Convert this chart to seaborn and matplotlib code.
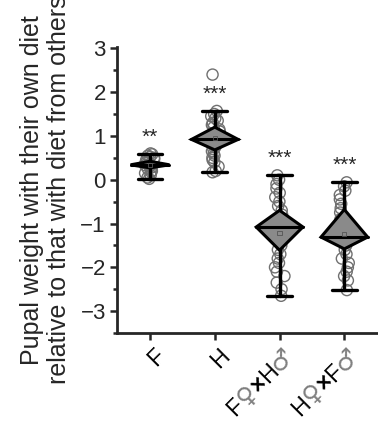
import numpy as np
import pandas as pd
import matplotlib
matplotlib.use('Agg')
import matplotlib.pyplot as plt
import matplotlib.transforms as mtransforms
import seaborn as sns
from matplotlib.ticker import MultipleLocator

# categories
groups = ['F', 'H', 'F♀×H♂', 'H♀×F♂']

# individual points
f_vals = [0.60, 0.58, 0.55, 0.52, 0.50, 0.47, 0.45, 0.42, 0.38, 0.35,
          0.33, 0.30, 0.28, 0.25, 0.20, 0.18, 0.15, 0.10, 0.05, 0.02]
h_vals = [2.40, 1.57, 1.50, 1.45, 1.40, 1.35, 1.30, 1.25, 1.20, 1.15,
          1.10, 1.05, 1.00, 0.95, 0.90, 0.85, 0.80, 0.75, 0.70, 0.65,
          0.60, 0.55, 0.50, 0.45, 0.40, 0.30, 0.20, 0.17]
fh_vals = [0.10, 0.00, -0.10, -0.20, -0.30, -0.40, -0.50, -0.60, -0.70, -0.80,
           -0.95, -1.10, -1.30, -1.50, -1.60, -1.70, -1.80, -1.90, -2.00, -2.10,
           -2.20, -2.35, -2.50, -2.65]
hf_vals = [-0.06, -0.15, -0.25, -0.35, -0.45, -0.55, -0.65, -0.75, -0.90, -1.05,
           -1.20, -1.35, -1.50, -1.60, -1.70, -1.80, -1.90, -2.00, -2.10, -2.20,
           -2.30, -2.52]

# summary values: whisker caps and diamond (top / middle line / bottom)
cap_hi = [0.59, 1.57, 0.11, -0.06]
cap_lo = [0.02, 0.17, -2.65, -2.52]
dia_hi = [0.42, 1.20, -0.70, -0.68]
dia_mid = [0.34, 0.92, -1.08, -1.31]
dia_lo = [0.27, 0.68, -1.61, -1.58]
stars = ['**', '***', '***', '***']

sns.set_style('ticks')
plt.rcParams['font.family'] = ['Liberation Sans', 'DejaVu Sans']

df = pd.DataFrame({
    'group': [groups[0]] * len(f_vals) + [groups[1]] * len(h_vals)
             + [groups[2]] * len(fh_vals) + [groups[3]] * len(hf_vals),
    'value': f_vals + h_vals + fh_vals + hf_vals,
})
means = df.groupby('group')['value'].mean().reindex(groups).values

fig = plt.figure(figsize=(3.78, 4.22), dpi=100)
ax = fig.add_axes([117 / 378, 1 - 333 / 422, 1 - 117 / 378, (333 - 47) / 422])

np.random.seed(3)
sns.stripplot(data=df, x='group', y='value', order=groups, jitter=0.08, size=8,
              color='#707070', facecolor='none', edgecolor='#707070',
              linewidth=1.0, ax=ax, zorder=2)

half_w = [0.30, 0.36, 0.36, 0.36]
cap_w = 0.19
for i in range(len(groups)):
    hw = half_w[i]
    ax.plot([i, i], [cap_lo[i], cap_hi[i]], color='k', lw=2.4, zorder=3)
    ax.plot([i - cap_w, i + cap_w], [cap_hi[i]] * 2, color='k', lw=2.4, zorder=3)
    ax.plot([i - cap_w, i + cap_w], [cap_lo[i]] * 2, color='k', lw=2.4, zorder=3)
    ax.fill([i - hw, i, i + hw, i], [dia_mid[i], dia_hi[i], dia_mid[i], dia_lo[i]],
            facecolor='#8a8a8a', edgecolor='k', lw=2.2, zorder=4)
    ax.plot([i - hw, i + hw], [dia_mid[i]] * 2, color='k', lw=2.2, zorder=5)
    ax.scatter(i, means[i], marker='s', s=9, facecolor='none',
               edgecolor='#555555', lw=0.6, zorder=6)
    ax.text(i, cap_hi[i] + 0.38, stars[i], ha='center', va='center', fontsize=15)

ax.set_xlim(-0.51, 3.52)
ax.set_ylim(-3.5, 3.03)
ax.set_yticks(range(-3, 4))
ax.yaxis.set_minor_locator(MultipleLocator(0.5))
ax.set_xlabel('')
ax.set_ylabel('Pupal weight with their own diet\nrelative to that with diet from others',
              fontsize=18, labelpad=7, linespacing=1.12)
ax.set_xticks(range(len(groups)))
ax.tick_params(axis='x', labelbottom=False, width=1.8, length=5)
ax.tick_params(axis='y', labelsize=16, width=1.8, length=5, pad=3)
ax.tick_params(axis='y', which='minor', width=1.8, length=3)
for s in ['left', 'bottom']:
    ax.spines[s].set_linewidth(2)
sns.despine(ax=ax)

# rotated category labels, gender signs in thin grey type
fs = 16.5
renderer = fig.canvas.get_renderer()
ux, uy = np.cos(np.pi / 4), np.sin(np.pi / 4)
em = fs * fig.dpi / 72
for i, name in enumerate(groups):
    pieces = []
    for ch in name:
        if ch in '♀♂':
            kw = dict(fontsize=fs * 1.1, color='#808080', family='DejaVu Sans')
        elif ch == '×':
            kw = dict(fontsize=fs, color='k', fontweight='bold')
        else:
            kw = dict(fontsize=fs, color='k')
        t = ax.text(0, 0, ch, **kw)
        w = t.get_window_extent(renderer).width
        t.remove()
        pieces.append((ch, kw, w))
    total = sum(p[2] for p in pieces)
    ex, ey = 10, -18
    sx = ex - total * ux + 0.36 * em * uy
    sy = ey - total * uy - 0.36 * em * ux
    cum = 0
    for ch, kw, w in pieces:
        px, py = sx + cum * ux, sy + cum * uy
        tr = ax.get_xaxis_transform() + mtransforms.ScaledTranslation(
            px / fig.dpi, py / fig.dpi, fig.dpi_scale_trans)
        ax.text(i, 0, ch, transform=tr, rotation=45, rotation_mode='anchor',
                ha='left', va='baseline', **kw)
        cum += w

fig.savefig('out.png', dpi=100)
